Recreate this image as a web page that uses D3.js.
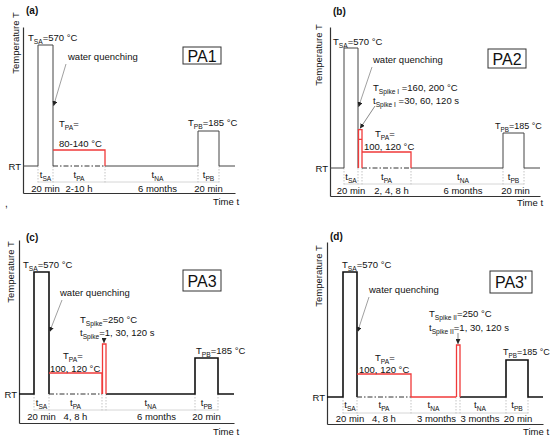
<!DOCTYPE html>
<html>
<head>
<meta charset="utf-8">
<script src="https://cdn.jsdelivr.net/npm/d3@7"></script>
<style>
  body { margin: 0; background: #fff; }
  text { font-family: "Liberation Sans", Arial, sans-serif; fill: #111; }
</style>
</head>
<body>
<div id="chart"></div>
<script>
// schematic temperature levels (°C) shared by all four panels
var tempLevels = [20, 110, 185, 250, 570];

// (a) PA1
var keysA = ["RT", "SA", "PA", "NA", "PB", "RT"];
var spanA = [15, 15, 52, 93, 21, 16];
var tempA = [20, 570, 110, 20, 185, 20];
var symA  = ["", "SA", "PA", "NA", "PB", ""];
var durA  = ["", "20 min", "2-10 h", "6 months", "20 min", ""];

// (b) PA2
var keysB = ["RT", "SA", "SP", "PA", "NA", "PB", "RT"];
var spanB = [14, 14, 4, 49, 92, 21, 16];
var tempB = [20, 570, 200, 110, 20, 185, 20];
var symB  = ["", "SA", "", "PA", "NA", "PB", ""];
var durB  = ["", "20 min", "", "2, 4, 8 h", "6 months", "20 min", ""];
var spikeInnerB = 160;

// (c) PA3
var keysC = ["RT", "SA", "PA", "SP", "NA", "PB", "RT"];
var spanC = [15, 15, 53, 4, 89, 23, 16];
var tempC = [20, 570, 110, 250, 20, 185, 20];
var symC  = ["", "SA", "PA", "", "NA", "PB", ""];
var durC  = ["", "20 min", "4, 8 h", "", "6 months", "20 min", ""];

// (d) PA3'
var keysD = ["RT", "SA", "PA", "NA1", "SP", "NA", "PB", "RT"];
var spanD = [16, 14, 54, 45, 4, 46, 22, 15];
var tempD = [20, 570, 110, 20, 250, 20, 185, 20];
var symD  = ["", "SA", "PA", "NA", "", "NA", "PB", ""];
var durD  = ["", "20 min", "4, 8 h", "3 months", "", "3 months", "20 min", ""];

var hotKeys = ["PA", "SP", "NA1"];
var RED = "#f03a3a";
var FS = 9.5;

var panels = [
  { tag: "(a)", name: "PA1", keys: keysA, span: spanA, temp: tempA, sym: symA, dur: durA,
    ox: 0, oy: 0, x0: 23, x1: 235, top: 27, axisY: 193, rowY: 178, valY: 192, sepY: 182,
    yr: [166, 150, 131, 118, 45], ink: "#444", lw: 1,
    symShift: { 3: 6 }, durShift: { 3: 6 },
    tagPos: [26, 14], tLab: [19, 43], box: [183, 47, 38, 17], timePos: [213, 205],
    wq: [68, 60], wqFrom: [66, 64], wqTipY: 106,
    notes: [["T_{SA}=570 °C", 28, 41], ["T_{PA}=", 59, 127], ["80-140 °C", 59, 147], ["T_{PB}=185 °C", 188, 126]] },
  { tag: "(b)", name: "PA2", keys: keysB, span: spanB, temp: tempB, sym: symB, dur: durB, inner: spikeInnerB,
    ox: 275, oy: 0, x0: 55, x1: 265, top: 27, axisY: 196, rowY: 180, valY: 194, sepY: 184,
    yr: [168, 152, 133, 118, 48], ink: "#444", lw: 1,
    symShift: { 4: 6 }, durShift: { 3: 5, 4: 6, 5: 2 },
    tagPos: [58, 15], tLab: [47, 55], box: [213, 49, 38, 19], timePos: [242, 206],
    wq: [98, 63], wqFrom: [97, 67], wqTipY: 107,
    spikeFrom: [100, 106],
    notes: [["T_{SA}=570 °C", 58, 45], ["T_{Spike I} =160, 200 °C", 98, 91], ["t_{Spike I} =30, 60, 120 s", 98, 104],
            ["T_{PA}=", 100, 137], ["100, 120 °C", 89, 150], ["T_{PB}=185 °C", 220, 129, 9]] },
  { tag: "(c)", name: "PA3", keys: keysC, span: spanC, temp: tempC, sym: symC, dur: durC,
    ox: 0, oy: 220, x0: 19, x1: 234, top: 20, axisY: 203, rowY: 186, valY: 200, sepY: 190,
    yr: [174, 153, 138, 124, 52], ink: "#111", lw: 1.6,
    symShift: {}, durShift: { 4: 6 },
    tagPos: [26, 21], tLab: [14, 52], box: [183, 50, 38, 21], timePos: [213, 215],
    wq: [60, 76], wqFrom: [62, 80], wqTipY: 112,
    spikeFromY: 118,
    notes: [["T_{SA}=570 °C", 23, 48], ["T_{Spike}=250 °C", 80, 103], ["t_{Spike}=1, 30, 120 s", 80, 116],
            ["T_{PA}=", 63, 139], ["100, 120 °C", 50, 152], ["T_{PB}=185 °C", 196, 134]] },
  { tag: "(d)", name: "PA3'", keys: keysD, span: spanD, temp: tempD, sym: symD, dur: durD,
    ox: 275, oy: 220, x0: 52, x1: 268, top: 22, axisY: 204, rowY: 188, valY: 202, sepY: 193,
    yr: [177, 154, 140, 125, 52], ink: "#111", lw: 1.6,
    symShift: { 5: -3 }, durShift: { 3: 3, 5: -3, 6: 1 },
    tagPos: [55, 20], tLab: [47, 56], box: [215, 51, 42, 22], timePos: [248, 215],
    wq: [94, 73], wqFrom: [94, 77], wqTipY: 112,
    spikeFromY: 113,
    notes: [["T_{SA}=570 °C", 67, 48], ["T_{Spike II}=250 °C", 154, 97], ["t_{Spike II}=1, 30, 120 s", 154, 111],
            ["T_{PA}=", 100, 141], ["100, 120 °C", 84, 153], ["T_{PB}=185 °C", 228, 135, 9]] }
];

var svg = d3.select("#chart").append("svg")
  .attr("width", 550)
  .attr("height", 439);

svg.append("defs").append("marker")
  .attr("id", "head")
  .attr("viewBox", "0 0 8 8")
  .attr("refX", 8).attr("refY", 4)
  .attr("markerWidth", 5).attr("markerHeight", 5)
  .attr("markerUnits", "userSpaceOnUse")
  .attr("orient", "auto")
  .append("path").attr("d", "M0,0L8,4L0,8z").attr("fill", "#222");

// text with T_{sub} style subscripts
function rich(sel, str, size) {
  var parts = str.split(/(_\{[^}]*\})/);
  var shifted = false;
  parts.forEach(function(part) {
    if (!part) return;
    if (part[0] === "_") {
      sel.append("tspan").attr("font-size", size * 0.7).attr("dy", 2.5).text(part.slice(2, -1));
      shifted = true;
    } else {
      sel.append("tspan").attr("dy", shifted ? -2.5 : 0).text(part);
      shifted = false;
    }
  });
  return sel;
}

panels.forEach(function(p) {
  var g = svg.append("g").attr("transform", `translate(${p.ox}, ${p.oy})`);

  var ends = Array.from(d3.cumsum(p.span));
  var starts = [0].concat(ends.slice(0, -1));
  var x = d3.scaleLinear().domain([0, d3.sum(p.span)]).range([p.x0, p.x1]);
  var y = d3.scaleLinear().domain(tempLevels).range(p.yr);
  var rt = y(tempLevels[0]);
  var isHot = function(k) { return hotKeys.indexOf(k) >= 0; };

  // axes
  var xAxis = g.append("g").attr("transform", `translate(0, ${p.axisY})`)
    .call(d3.axisBottom(x).tickValues([]).tickSizeOuter(0));
  var yAxisScale = d3.scaleLinear().range([p.axisY, p.top]);
  var yAxis = g.append("g").attr("transform", `translate(${p.x0}, 0)`)
    .call(d3.axisLeft(yAxisScale).tickValues([]).tickSizeOuter(0));
  [xAxis, yAxis].forEach(function(a) {
    a.select(".domain").attr("stroke", "#333").attr("stroke-width", 1.2);
  });

  // phase dividers and the separator line
  var bounds = starts.slice(1);
  g.selectAll(".div").data(bounds).enter().append("line")
    .attr("x1", d => x(d)).attr("x2", d => x(d))
    .attr("y1", rt).attr("y2", p.sepY + 2)
    .attr("stroke", "#aaa").attr("stroke-width", 0.7)
    .attr("stroke-dasharray", "1.5,1.5");
  g.append("line")
    .attr("x1", x(bounds[0])).attr("x2", x(bounds[bounds.length - 1]))
    .attr("y1", p.sepY).attr("y2", p.sepY)
    .attr("stroke", "#ccc").attr("stroke-width", 0.8);

  // black profile
  var path = d3.path();
  path.moveTo(x(0), rt);
  p.keys.forEach(function(k, i) {
    var xs = x(starts[i]), xe = x(ends[i]);
    if (isHot(k)) {
      path.lineTo(xs, rt);
      path.moveTo(xe, rt);
    } else {
      var ty = y(p.temp[i]);
      path.lineTo(xs, ty);
      path.lineTo(xe, ty);
    }
  });
  g.append("path").attr("d", path.toString())
    .attr("fill", "none").attr("stroke", p.ink).attr("stroke-width", p.lw);

  // room temperature dash-dot under the pre-ageing step
  p.keys.forEach(function(k, i) {
    if (k !== "PA") return;
    g.append("line")
      .attr("x1", x(starts[i])).attr("x2", x(ends[i]))
      .attr("y1", rt).attr("y2", rt)
      .attr("stroke", "#333").attr("stroke-width", 1)
      .attr("stroke-dasharray", "5,2,1.5,2");
  });

  // red heat treatment steps
  p.keys.forEach(function(k, i) {
    var xs = x(starts[i]), xe = x(ends[i]), ty = y(p.temp[i]);
    var r = d3.path();
    if (k === "PA") {
      r.moveTo(xs, ty); r.lineTo(xe, ty); r.lineTo(xe, rt);
    } else if (k === "SP") {
      r.moveTo(xs + 0.5, rt); r.lineTo(xs + 0.5, ty); r.lineTo(xe, ty); r.lineTo(xe, rt);
      if (p.inner) { r.moveTo(xs, y(p.inner)); r.lineTo(xe, y(p.inner)); }
    } else if (k === "NA1") {
      r.moveTo(xs, rt); r.lineTo(xe, rt);
    } else {
      return;
    }
    g.append("path").attr("d", r.toString())
      .attr("fill", "none").attr("stroke", RED).attr("stroke-width", 1.3);
  });

  // bottom time labels
  p.keys.forEach(function(k, i) {
    var cx = x((starts[i] + ends[i]) / 2);
    if (p.sym[i]) {
      rich(g.append("text").attr("x", cx + (p.symShift[i] || 0)).attr("y", p.rowY)
        .attr("text-anchor", "middle").attr("font-size", FS), "t_{" + p.sym[i] + "}", FS);
    }
    if (p.dur[i]) {
      g.append("text").attr("x", cx + (p.durShift[i] || 0)).attr("y", p.valY)
        .attr("text-anchor", "middle").attr("font-size", FS).text(p.dur[i]);
    }
  });

  // labels
  g.append("text").attr("x", p.x0 - 2).attr("y", rt + 3.5)
    .attr("text-anchor", "end").attr("font-size", FS).text("RT");
  g.append("text").attr("x", p.tagPos[0]).attr("y", p.tagPos[1])
    .attr("font-size", 10).attr("font-weight", "bold").text(p.tag);
  g.append("text")
    .attr("transform", `translate(${p.tLab[0]}, ${p.tLab[1]}) rotate(-90)`)
    .attr("text-anchor", "middle").attr("font-size", FS).text("Temperature T");
  g.append("text").attr("x", p.timePos[0]).attr("y", p.timePos[1])
    .attr("font-size", FS).text("Time t");

  g.append("rect")
    .attr("x", p.box[0]).attr("y", p.box[1]).attr("width", p.box[2]).attr("height", p.box[3])
    .attr("fill", "#fff").attr("stroke", "#333").attr("stroke-width", 1);
  g.append("text")
    .attr("x", p.box[0] + p.box[2] / 2).attr("y", p.box[1] + p.box[3] / 2 + 6)
    .attr("text-anchor", "middle").attr("font-size", 16).text(p.name);

  p.notes.forEach(function(n) {
    var fs = n[3] || FS;
    rich(g.append("text").attr("x", n[1]).attr("y", n[2]).attr("font-size", fs), n[0], fs);
  });

  // water quenching note with arrow to the quench edge
  var quenchX = x(ends[p.keys.indexOf("SA")]);
  g.append("text").attr("x", p.wq[0]).attr("y", p.wq[1])
    .attr("font-size", FS).text("water quenching");
  g.append("line")
    .attr("x1", p.wqFrom[0]).attr("y1", p.wqFrom[1])
    .attr("x2", quenchX + 0.5).attr("y2", p.wqTipY)
    .attr("stroke", "#777").attr("stroke-width", 0.7)
    .attr("marker-end", "url(#head)");

  // arrow to the spike
  var si = p.keys.indexOf("SP");
  if (si >= 0) {
    var sx = x((starts[si] + ends[si]) / 2), sy = y(p.temp[si]);
    var from = p.spikeFrom ? p.spikeFrom : [sx, p.spikeFromY];
    g.append("line")
      .attr("x1", from[0]).attr("y1", from[1])
      .attr("x2", sx).attr("y2", sy - 1)
      .attr("stroke", "#555").attr("stroke-width", 0.7)
      .attr("marker-end", "url(#head)");
  }
});

// stray mark in the source figure
svg.append("text").attr("x", 5).attr("y", 207).attr("font-size", 10).text(",");
</script>
</body>
</html>
